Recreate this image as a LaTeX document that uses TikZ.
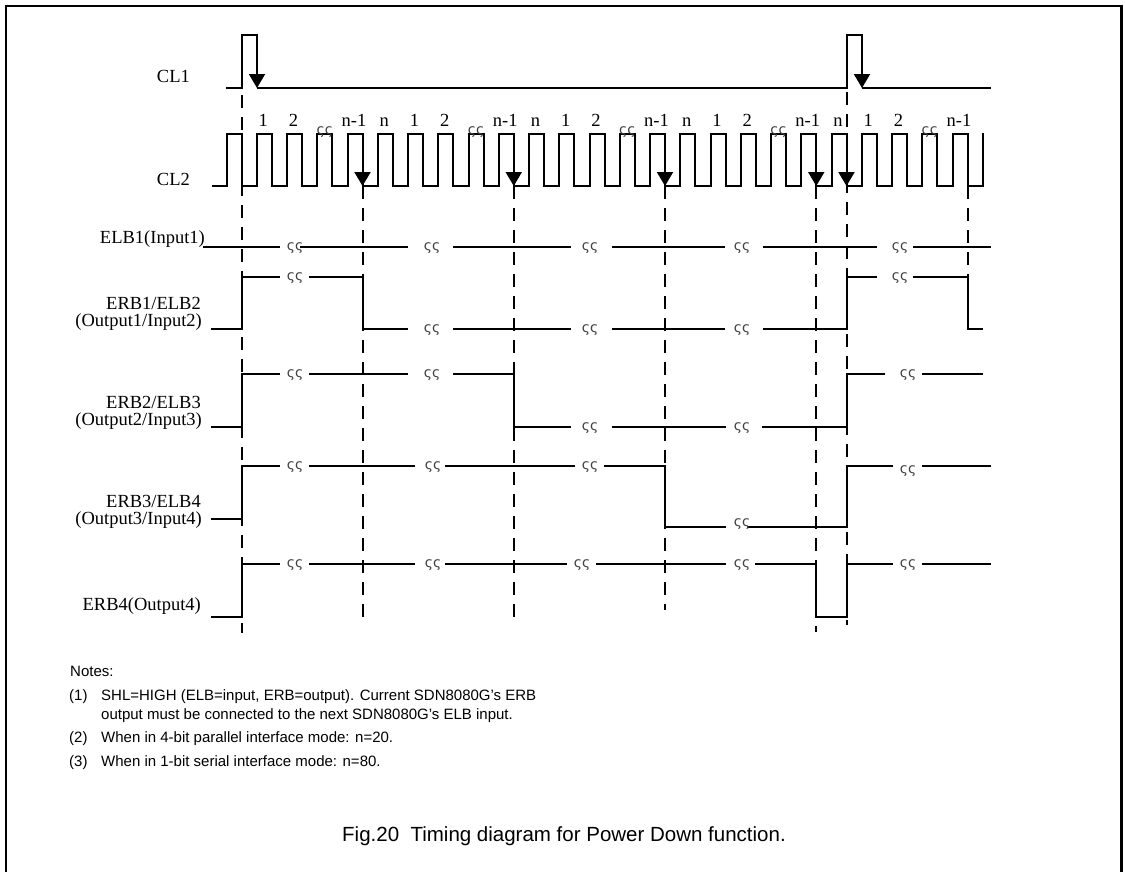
\documentclass[tikz,border=0pt]{standalone}
\usepackage{fontspec}
\setmainfont{Liberation Serif}
\newfontfamily\notefont{Liberation Sans}
\newfontfamily\brkfont{DejaVu Sans}
\usetikzlibrary{arrows.meta}
\begin{document}
\begin{tikzpicture}[x=1pt,y=-1pt,
  sig/.style={line width=2pt},
  dsh/.style={line width=2pt,dash pattern=on 13pt off 9pt},
  frame/.style={line width=2.6pt},
  arr/.style={line width=2pt,-{Triangle[width=16pt,length=14pt]}},
  brk/.style={font=\brkfont\fontsize{14}{14}\selectfont,text=black!75,inner sep=0pt},
  lbl/.style={font=\fontsize{18.5}{20}\selectfont,inner sep=0pt,anchor=base east},
  num/.style={font=\fontsize{18.5}{20}\selectfont,inner sep=0pt,anchor=base},
  note/.style={font=\notefont\fontsize{15}{17}\selectfont,inner sep=0pt,anchor=base west},
  figcap/.style={font=\notefont\fontsize{20.5}{24}\selectfont,inner sep=0pt,anchor=base west}]
\useasboundingbox (0,0) rectangle (1125,871);
% frame
\draw[frame] (6,875) -- (6,6) -- (1121.5,6) -- (1121.5,875);

% signal labels
\node[lbl] (lcl1) at (190,82) {CL1};
\node[lbl] (lcl2) at (190,185) {CL2};
\node[lbl] (lelb1) at (205,243) {ELB1(Input1)};
\node[lbl] (lerb1a) at (201,309) {ERB1/ELB2};
\node[lbl] (lerb1b) at (202,326) {(Output1/Input2)};
\node[lbl] (lerb2a) at (201,408) {ERB2/ELB3};
\node[lbl] (lerb2b) at (202,425) {(Output2/Input3)};
\node[lbl] (lerb3a) at (201,507) {ERB3/ELB4};
\node[lbl] (lerb3b) at (202,524) {(Output3/Input4)};
\node[lbl] (lerb4) at (201,610) {ERB4(Output4)};

% dashed reference lines
\draw[dsh] (241.5,95) -- (241.5,633);
\draw[dsh] (362.5,186) -- (362.5,617);
\draw[dsh] (513.75,186) -- (513.75,617);
\draw[dsh] (665,186) -- (665,610);
\draw[dsh] (816.25,186) -- (816.25,632);
\draw[dsh] (846.75,92) -- (846.75,625);
\draw[dsh] (967.5,186) -- (967.5,277);

% CL1
\draw[sig] (226,88) -- (241.5,88) -- (241.5,35) -- (257,35);
\draw[sig] (257,88) -- (846.5,88) -- (846.5,35) -- (862,35);
\draw[sig] (862,88) -- (991,88);
\draw[arr] (257,34) -- (257,88);
\draw[arr] (862,34) -- (862,88);

% CL2
\draw[sig] (211.7,186)
  \foreach \k in {0,...,24} {
    -- ({226.5+\k*30.25},186) -- ({226.5+\k*30.25},134)
    -- ({241.5+\k*30.25},134) -- ({241.5+\k*30.25},186) }
  -- (982.75,186) -- (982.75,133);
\foreach \k in {4,9,14,19,20} {
  \draw[arr] ({241.5+\k*30.25},133) -- ({241.5+\k*30.25},186);
}
% CL2 pulse numbers
\foreach \k/\t [count=\i] in {1/1,2/2,4/n-1,5/n,6/1,7/2,9/n-1,10/n,11/1,12/2,14/n-1,15/n,16/1,17/2,19/n-1,20/n,21/1,22/2,24/n-1} {
  \node[num] (pn\i) at ({233+\k*30.25},126) {\t};
}
\foreach \k [count=\i] in {3,8,13,18,23} {
  \node[brk] (pb\i) at ({234+\k*30.25},132) {ςς};
}

% ELB1
\def\yy{246.7}
\draw[sig] (203,\yy) -- (280,\yy);
\draw[sig] (300,\yy) -- (408,\yy);
\draw[sig] (453,\yy) -- (571,\yy);
\draw[sig] (612,\yy) -- (725,\yy);
\draw[sig] (763,\yy) -- (877,\yy);
\draw[sig] (913,\yy) -- (991,\yy);
\foreach \x [count=\i] in {295,432,590,742,900} {
  \node[brk] (ea\i) at (\x,248) {ςς};
}

% ERB1/ELB2
\draw[sig] (211,329.3) -- (241.5,329.3) -- (241.5,276.7) -- (280,276.7);
\draw[sig] (309,276.7) -- (362.5,276.7) -- (362.5,329.3) -- (408,329.3);
\draw[sig] (453,329.3) -- (571,329.3);
\draw[sig] (612,329.3) -- (725,329.3);
\draw[sig] (763,329.3) -- (846.75,329.3) -- (846.75,276.7) -- (877,276.7);
\draw[sig] (913,276.7) -- (967.5,276.7) -- (967.5,329.3) -- (983,329.3);
\node[brk] (eb1) at (295,278) {ςς};
\node[brk] (eb2) at (432,330.5) {ςς};
\node[brk] (eb3) at (590,330.5) {ςς};
\node[brk] (eb4) at (742,330.5) {ςς};
\node[brk] (eb5) at (900,278) {ςς};

% ERB2/ELB3
\draw[sig] (211,427.3) -- (241.5,427.3) -- (241.5,374.3) -- (280,374.3);
\draw[sig] (309,374.3) -- (408,374.3);
\draw[sig] (453,374.3) -- (513.75,374.3) -- (513.75,427.3) -- (571,427.3);
\draw[sig] (612,427.3) -- (726,427.3);
\draw[sig] (762,427.3) -- (846.75,427.3) -- (846.75,374.3) -- (885,374.3);
\draw[sig] (922,374.3) -- (983,374.3);
\node[brk] (ec1) at (295,375.5) {ςς};
\node[brk] (ec2) at (432,375.5) {ςς};
\node[brk] (ec3) at (590,428.5) {ςς};
\node[brk] (ec4) at (742,428.5) {ςς};
\node[brk] (ec5) at (908,375.5) {ςς};

% ERB3/ELB4
\draw[sig] (211,519) -- (241.5,519) -- (241.5,465.7) -- (280,465.7);
\draw[sig] (309,465.7) -- (415,465.7);
\draw[sig] (445,465.7) -- (575,465.7);
\draw[sig] (604,465.7) -- (665,465.7) -- (665,526.7) -- (726,526.7);
\draw[sig] (747,526.7) -- (846.75,526.7) -- (846.75,465.7) -- (893,465.7);
\draw[sig] (922,465.7) -- (991,465.7);
\node[brk] (ed1) at (295,467) {ςς};
\node[brk] (ed2) at (433,467) {ςς};
\node[brk] (ed3) at (590,467) {ςς};
\node[brk] (ed4) at (742,524.5) {ςς};
\node[brk] (ed5) at (908,471) {ςς};

% ERB4
\draw[sig] (211,616.7) -- (241.5,616.7) -- (241.5,564) -- (280,564);
\draw[sig] (309,564) -- (415,564);
\draw[sig] (445,564) -- (567,564);
\draw[sig] (596,564) -- (726,564);
\draw[sig] (755,564) -- (816.25,564) -- (816.25,616.7) -- (846.75,616.7) -- (846.75,564) -- (893,564);
\draw[sig] (922,564) -- (991,564);
\node[brk] (ee1) at (295,565) {ςς};
\node[brk] (ee2) at (433,565) {ςς};
\node[brk] (ee3) at (582,565) {ςς};
\node[brk] (ee4) at (742,565) {ςς};
\node[brk] (ee5) at (908,565) {ςς};

% notes
\node[note] (n0) at (70,676) {Notes:};
\node[note] (n1) at (69,700) {(1)};
\node[note] (n1a) at (101,700) {SHL=HIGH (ELB=input, ERB=output). Current SDN8080G’s ERB};
\node[note] (n1b) at (101,719) {output must be connected to the next SDN8080G’s ELB input.};
\node[note] (n2) at (69,742) {(2)};
\node[note] (n2a) at (101,742) {When in 4-bit parallel interface mode: n=20.};
\node[note] (n3) at (69,766) {(3)};
\node[note] (n3a) at (101,766) {When in 1-bit serial interface mode: n=80.};

% caption
\node[figcap] (capt) at (342,841) {Fig.20\ \ Timing diagram for Power Down function.};
\end{tikzpicture}
\end{document}
